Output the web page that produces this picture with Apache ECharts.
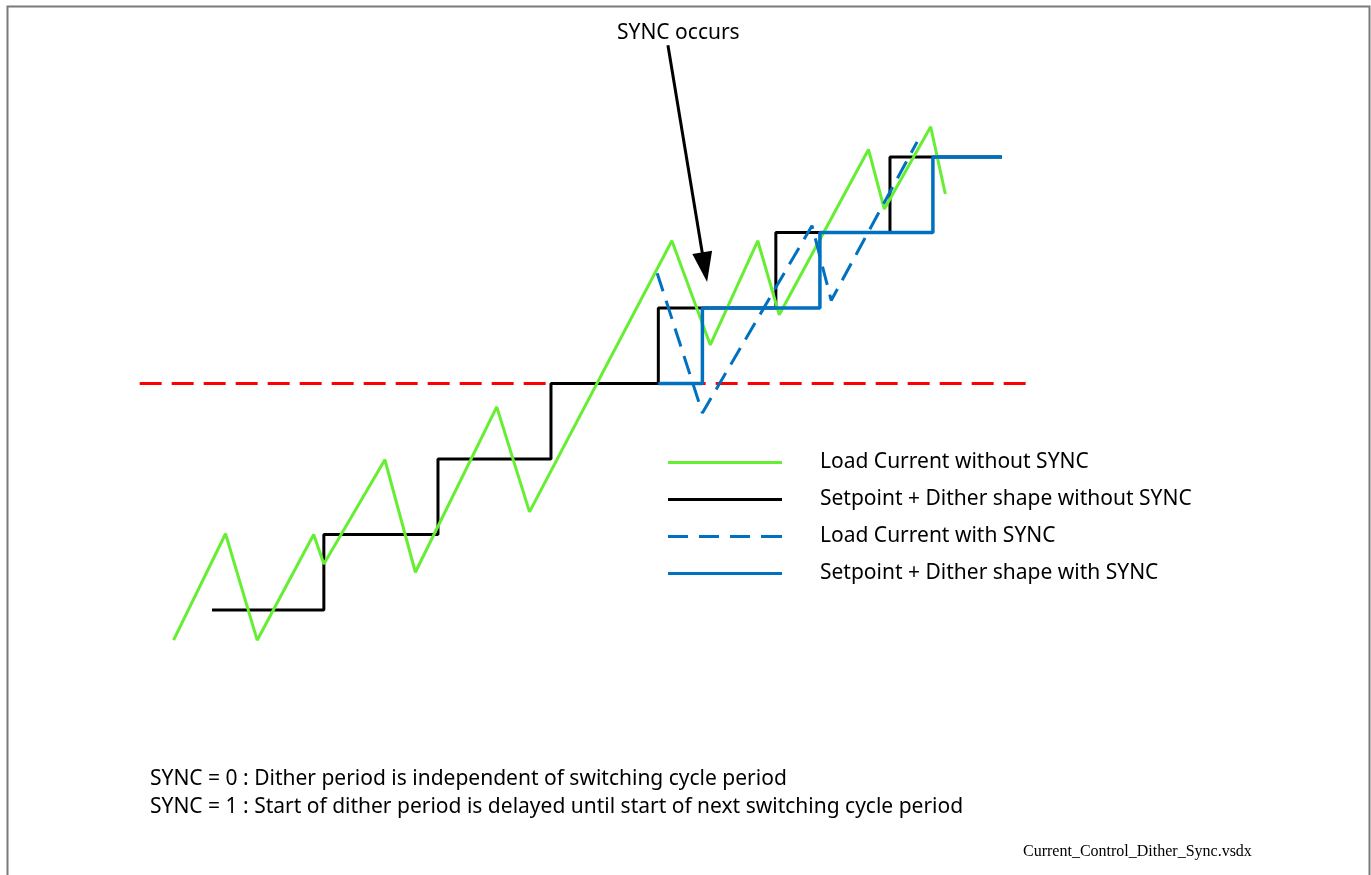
<!DOCTYPE html>
<html>
<head>
<meta charset="utf-8">
<script src="https://cdn.jsdelivr.net/npm/echarts@6/dist/echarts.min.js"></script>
<style>
html,body{margin:0;padding:0;background:#fff;}
#chart{width:1371px;height:875px;}
</style>
</head>
<body>
<div id="chart"></div>
<script>
// Time axis in setpoint-step periods, level axis in setpoint steps
const loadCurrentNoSync = [
  [-0.34, -0.40], [0.12, 1.01], [0.40, -0.40], [0.90, 1.00], [0.99, 0.61],
  [1.53, 1.99], [1.80, 0.50], [2.52, 2.69], [2.81, 1.30], [4.07, 4.89],
  [4.41, 3.51], [4.83, 4.89], [5.02, 3.91], [5.81, 6.10], [5.95, 5.31],
  [6.36, 6.40], [6.49, 5.51]
];
const setpointNoSync = [
  [0, 0], [0.99, 1], [2.0, 2], [3.0, 3], [3.95, 4], [4.99, 5], [6.0, 6], [6.99, 6]
];
const loadCurrentSync = [
  [3.94, 4.46], [4.34, 2.61], [5.31, 5.09], [5.48, 4.10], [6.24, 6.20]
];
const setpointSync = [
  [3.95, 3], [4.34, 4], [5.38, 5], [6.38, 6], [6.99, 6]
];
const thresholdLine = [[-0.64, 3], [7.21, 3]];
const syncArrow = [[4.035, 7.48], [4.36, 4.54]];

const legendNames = [
  'Load Current without SYNC',
  'Setpoint + Dither shape without SYNC',
  'Load Current with SYNC',
  'Setpoint + Dither shape with SYNC'
];
const noteLines = [
  'SYNC = 0 : Dither period is independent of switching cycle period',
  'SYNC = 1 : Start of dither period is delayed until start of next switching cycle period'
];
const annotationText = 'SYNC occurs';
const fileName = 'Current_Control_Dither_Sync.vsdx';

const GREEN = '#66EE33', BLACK = '#000000', BLUE = '#0070C0', RED = '#FF0000';
const FONT = 'Noto Sans';
const SOLID_ICON = 'path://M0,0h114v3h-114z';
const DASH_ICON = 'path://M0,0h20v3h-20zM31,0h20v3h-20zM62,0h20v3h-20zM93,0h21v3h-21z';

const chart = echarts.init(document.getElementById('chart'));
chart.setOption({
  animation: false,
  backgroundColor: '#ffffff',
  grid: {left: 0, right: 0, top: 0, bottom: 0},
  xAxis: {type: 'value', min: -1.876, max: 10.257, show: false},
  yAxis: {type: 'value', min: -3.510, max: 8.079, show: false},
  legend: {
    data: [
      {name: legendNames[0], icon: SOLID_ICON},
      {name: legendNames[1], icon: SOLID_ICON},
      {name: legendNames[2], icon: DASH_ICON},
      {name: legendNames[3], icon: SOLID_ICON}
    ],
    orient: 'vertical',
    left: 668, top: 452, padding: 0,
    itemWidth: 114, itemHeight: 3, itemGap: 16,
    textStyle: {fontFamily: FONT, fontSize: 21, color: '#000', padding: [0, 0, 0, 33]},
    selectedMode: false
  },
  graphic: [
    {type: 'rect', left: 5, top: 4, shape: {width: 1362, height: 900},
     style: {fill: 'none', stroke: '#7a7a7a', lineWidth: 2}, silent: true},
    {type: 'text', left: 617, top: 23, style: {text: annotationText, font: '21px "Noto Sans"', fill: '#000'}},
    {type: 'text', left: 150, top: 769, style: {text: noteLines[0], font: '21px "Noto Sans"', fill: '#000'}},
    {type: 'text', left: 150, top: 797, style: {text: noteLines[1], font: '21px "Noto Sans"', fill: '#000'}},
    {type: 'text', left: 1023, top: 844, style: {text: fileName, font: '16px "Liberation Serif"', fill: '#000'}}
  ],
  series: [
    {type: 'line', name: 'threshold', data: thresholdLine, symbol: 'none',
     lineStyle: {color: RED, width: 3, type: [22, 10]}, z: 1},
    {type: 'line', name: legendNames[1], data: setpointNoSync, step: 'end', symbol: 'none',
     color: BLACK, lineStyle: {color: BLACK, width: 3}, z: 2},
    {type: 'line', name: legendNames[0], data: loadCurrentNoSync, symbol: 'none',
     color: GREEN, lineStyle: {color: GREEN, width: 3}, z: 3},
    {type: 'line', name: legendNames[3], data: setpointSync, step: 'end', symbol: 'none',
     color: BLUE, lineStyle: {color: BLUE, width: 3.5}, z: 4},
    {type: 'line', name: legendNames[2], data: loadCurrentSync, symbol: 'none',
     color: BLUE, lineStyle: {color: BLUE, width: 3, type: [19, 10]}, z: 5},
    {type: 'line', name: 'arrow', data: [], symbol: 'none', z: 6,
     markLine: {
       silent: true, animation: false,
       symbol: ['none', 'triangle'], symbolSize: [20, 30],
       lineStyle: {color: BLACK, width: 3, type: 'solid'},
       label: {show: false},
       data: [[{coord: syncArrow[0]}, {coord: syncArrow[1]}]]
     }}
  ]
});
</script>
</body>
</html>
